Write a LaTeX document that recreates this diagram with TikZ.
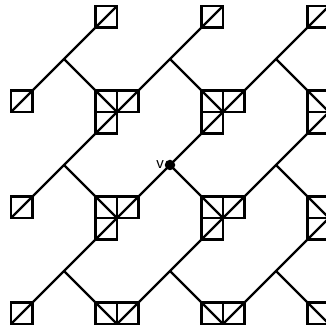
\documentclass[tikz,border=0pt]{standalone}
\usepackage{fontspec}
\setmainfont{Liberation Sans}
\tikzset{
    edge/.style={line width=2.2pt, line cap=round},
    cell/.style={line width=2.2pt},
    dot/.style={circle, fill=black, inner sep=0pt, minimum size=10.5pt}
}

\begin{document}
\begin{tikzpicture}[x=1pt, y=1pt]

    \useasboundingbox (0,0) rectangle (326,332);

    \foreach \i in {0,...,3} {
        \foreach \j in {0,...,3} {
            \coordinate (c\i\j) at (11+106*\i, 8+106*\j);
        }
    }
    \foreach \i [evaluate=\i as \ii using int(\i+1)] in {0,1,2} {
        \foreach \j [evaluate=\j as \jj using int(\j+1)] in {0,1,2} {
            \coordinate (j\i\j) at (64+106*\i, 61+106*\j);
            \draw[edge] (c\i\j) -- (j\i\j) -- (c\ii\jj);
            \draw[edge] (j\i\j) -- (c\ii\j);
        }
    }
    % cells round each lattice point, only those inside the frame
    \foreach \i in {0,...,3} {
        \foreach \j in {0,...,3} {
            \ifnum\j<3
                \draw[cell] (c\i\j) rectangle ++(21.5,21.5);
                \ifnum\i>0 \draw[cell] (c\i\j) rectangle ++(-21.5,21.5); \fi
            \fi
            \ifnum\i>0 \ifnum\j>0
                \draw[cell] (c\i\j) rectangle ++(-21.5,-21.5);
            \fi \fi
        }
    }

    \node[dot, label={[inner sep=0.6pt, font=\fontsize{15}{15}\selectfont]left:v}] (v) at (j11) {};
\end{tikzpicture}
\end{document}
